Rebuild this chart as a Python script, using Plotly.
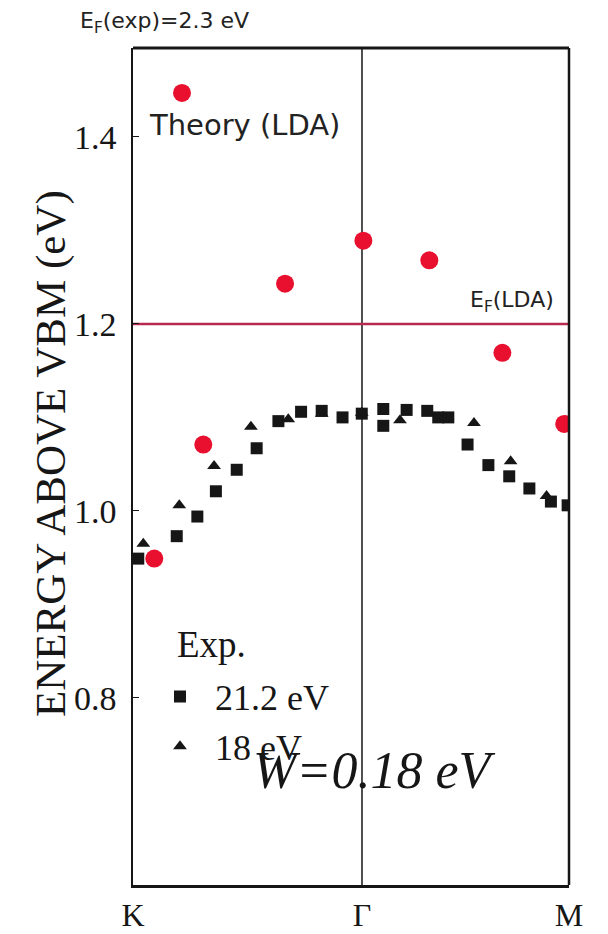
import plotly.graph_objects as go

# ---- data (x: K=0, Gamma=1, M=M_POS along the k-path) ----
M_POS = 1.904
x_tickvals = [0, 1, M_POS]
x_ticktext = ["K", "Γ", "M"]
y_tickvals = [0.8, 1.0, 1.2, 1.4]
y_ticktext = ["0.8", "1.0", "1.2", "1.4"]

theory_x = [0.093, 0.214, 0.307, 0.664, 1.006, 1.294, 1.613, 1.883]
theory_y = [0.949, 1.447, 1.071, 1.243, 1.289, 1.268, 1.169, 1.093]

sq_x = [0.023, 0.191, 0.281, 0.362, 0.453, 0.540, 0.635, 0.734, 0.824, 0.915,
        0.999, 1.093, 1.093, 1.195, 1.285, 1.333, 1.377, 1.461, 1.552, 1.643,
        1.731, 1.825, 1.898]
sq_y = [0.949, 0.973, 0.994, 1.021, 1.044, 1.067, 1.096, 1.106, 1.107, 1.100,
        1.104, 1.109, 1.091, 1.108, 1.107, 1.100, 1.100, 1.071, 1.049, 1.037,
        1.024, 1.010, 1.006]

tri_x = [0.045, 0.202, 0.354, 0.515, 0.678, 0.824, 0.999, 1.166, 1.489, 1.649, 1.806]
tri_y = [0.965, 1.006, 1.048, 1.090, 1.098, 1.104, 1.105, 1.097, 1.094, 1.053, 1.016]

EF_LDA = 1.2
Y_RANGE = [0.6, 1.495]

SERIF = "Liberation Serif, Times New Roman, serif"
SANS = "DejaVu Sans, Arial, sans-serif"
INK = "#161616"
RED = "#e8102e"
LINE_RED = "#b8294f"

fig = go.Figure()

fig.add_trace(go.Scatter(x=sq_x, y=sq_y, mode="markers", name="21.2 eV",
                         marker=dict(symbol="square", size=12, color=INK)))
fig.add_trace(go.Scatter(x=tri_x, y=tri_y, mode="markers", name="18 eV",
                         marker=dict(symbol="triangle-up", size=12, color=INK)))
fig.add_trace(go.Scatter(x=theory_x, y=theory_y, mode="markers", name="Theory (LDA)",
                         showlegend=False,
                         marker=dict(symbol="circle", size=18, color=RED)))

# Fermi level (LDA) line and Gamma line
fig.add_shape(type="line", xref="x", yref="y", x0=0, x1=M_POS, y0=EF_LDA, y1=EF_LDA,
              line=dict(color=LINE_RED, width=2.5), layer="below")
fig.add_shape(type="line", xref="x", yref="paper", x0=1, x1=1, y0=0, y1=1,
              line=dict(color=INK, width=1.5), layer="below")
# top and right frame
fig.add_shape(type="line", xref="paper", yref="paper", x0=0, x1=1, y0=1, y1=1,
              line=dict(color=INK, width=3))
fig.add_shape(type="line", xref="paper", yref="paper", x0=1, x1=1, y0=0, y1=1,
              line=dict(color=INK, width=2.5))

fig.update_layout(
    width=608, height=934,
    margin=dict(l=133, r=39, t=48, b=49, autoexpand=False),
    paper_bgcolor="white", plot_bgcolor="white",
    showlegend=True,
    legend=dict(
        x=0.0275, y=0.261, xanchor="left", yanchor="top",
        bgcolor="rgba(0,0,0,0)",
        font=dict(family=SERIF, size=36, color=INK),
        tracegroupgap=0, itemsizing="constant", itemwidth=60,
    ),
    xaxis=dict(range=[0, M_POS], tickvals=x_tickvals, ticktext=x_ticktext,
               showgrid=False, zeroline=False, showline=True, linecolor=INK, linewidth=3,
               ticks="", tickfont=dict(family=SERIF, size=32, color=INK),
               ticklabelstandoff=0, automargin=False),
    yaxis=dict(range=Y_RANGE, tickvals=y_tickvals, ticktext=y_ticktext,
               showgrid=False, zeroline=False, showline=True, linecolor=INK, linewidth=1.5,
               ticks="inside", ticklen=6, tickcolor=INK,
               tickfont=dict(family=SERIF, size=34, color=INK),
               ticklabelstandoff=8, automargin=False),
)

def px_x(px):
    return (px - 133) / 436.0

def px_y(py):
    return (885 - py) / 837.0

fig.add_annotation(text="E<sub>F</sub>(exp)=2.3 eV", xref="paper", yref="paper",
                   x=px_x(78), y=px_y(22), xanchor="left", yanchor="middle", showarrow=False,
                   font=dict(family=SANS, size=22, color="#222222"))
fig.add_annotation(text="Theory (LDA)", xref="paper", yref="paper",
                   x=px_x(147), y=px_y(125), xanchor="left", yanchor="middle", showarrow=False,
                   font=dict(family=SANS, size=29, color="#222222"))
fig.add_annotation(text="E<sub>F</sub>(LDA)", xref="paper", yref="paper",
                   x=px_x(468), y=px_y(301), xanchor="left", yanchor="middle", showarrow=False,
                   font=dict(family=SANS, size=22, color="#222222"))
fig.add_annotation(text="Exp.", xref="paper", yref="paper",
                   x=px_x(175), y=px_y(644), xanchor="left", yanchor="middle", showarrow=False,
                   font=dict(family=SERIF, size=37, color=INK))
fig.add_annotation(text="<i>W=0.18 eV</i>", xref="paper", yref="paper",
                   x=px_x(251), y=px_y(770), xanchor="left", yanchor="middle", showarrow=False,
                   font=dict(family=SERIF, size=52, color=INK))
fig.add_annotation(text="ENERGY ABOVE VBM (eV)", xref="paper", yref="paper",
                   x=px_x(51), y=px_y(454), xanchor="center", yanchor="middle", showarrow=False,
                   textangle=-90,
                   font=dict(family=SERIF, size=43, color=INK))

fig.write_html("out.html")
